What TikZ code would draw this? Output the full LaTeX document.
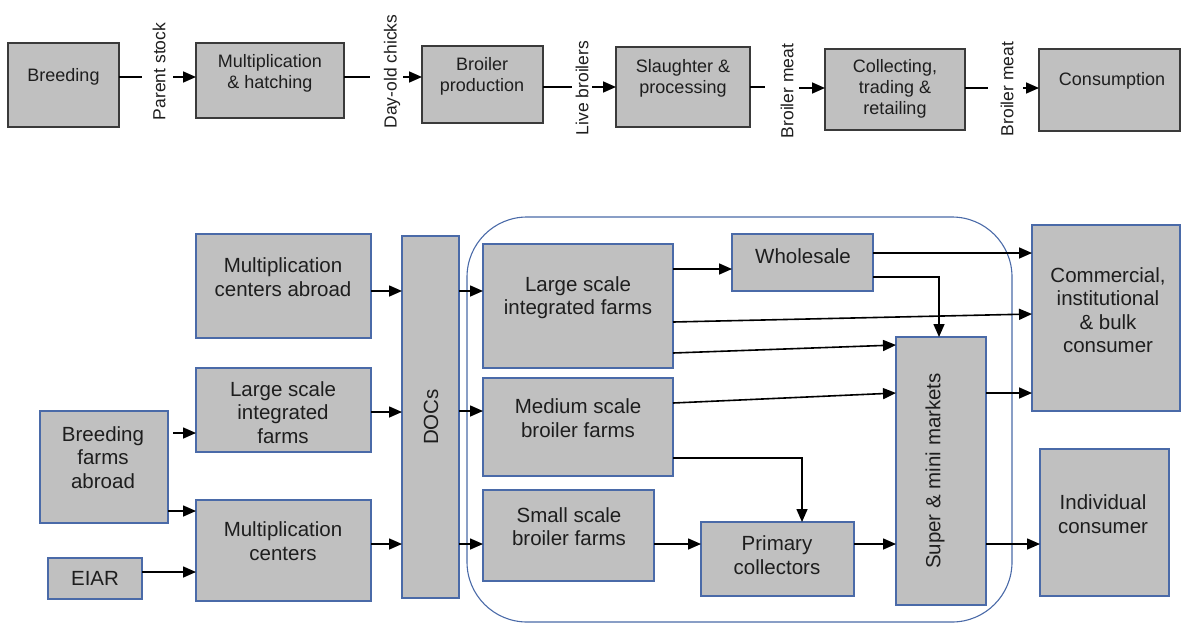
\documentclass[tikz,border=0pt]{standalone}
\usepackage{fontspec}
\setmainfont{Liberation Sans}
\usetikzlibrary{arrows.meta,calc}
\definecolor{boxfill}{HTML}{C0C0C0}
\definecolor{topline}{HTML}{3A3A3A}
\definecolor{blueline}{HTML}{4A6AA8}
\definecolor{txtc}{HTML}{1E1E1E}
\newcommand\pbox[6]{%
  \node[#1, minimum width={#5-#3}, minimum height={#6-#4}] (#2) at ({(#3+#5)/2},{(#4+#6)/2}) {};}
\tikzset{
  topbox/.style={draw=topline, fill=boxfill, line width=1.3pt, inner sep=0pt, outer sep=0pt},
  botbox/.style={draw=blueline, fill=boxfill, line width=1.3pt, inner sep=0pt, outer sep=0pt},
  ttxt/.style={text=txtc, align=center, inner sep=0pt, font=\fontsize{18pt}{21pt}\selectfont},
  btxt/.style={text=txtc, align=center, inner sep=0pt, font=\fontsize{20.5pt}{23.5pt}\selectfont},
  lbl/.style={text=txtc, inner sep=0pt, rotate=90, font=\fontsize{17.5pt}{20pt}\selectfont},
  plain/.style={draw=black, line width=1.6pt},
  arr/.style={draw=black, line width=1.6pt, -{Triangle[length=13pt,width=11pt]}},
  container/.style={draw=blueline, line width=1.1pt, rounded corners=60pt}
}
\begin{document}
\begin{tikzpicture}[x=1pt,y=-1pt]
\useasboundingbox (0,0) rectangle (1182,624);

% ---------- top chain ----------
\pbox{topbox}{breed}{8}{43}{119}{127}
\pbox{topbox}{mh}{196}{43}{344}{118}
\pbox{topbox}{bp}{422}{46}{543}{123}
\pbox{topbox}{sp}{616}{47}{750}{127}
\pbox{topbox}{ctr}{825}{49}{965}{130}
\pbox{topbox}{cons}{1039}{49}{1180}{131}

\node[ttxt] (tbreed) at (63.5,77) {Breeding};
\node[ttxt] (tmh) at (270,73.5) {Multiplication\\\& hatching};
\node[ttxt] (tbp) at (482,76.5) {Broiler\\production};
\node[ttxt] (tsp) at (683,78.5) {Slaughter \&\\processing};
\node[ttxt] (tctr) at (895,89) {Collecting,\\trading \&\\retailing};
\node[ttxt] (tcons) at (1112,81) {Consumption};

\node[lbl] (l1) at (159,71.5) {Parent stock};
\node[lbl] (l2) at (392,71.5) {Day-old chicks};
\node[lbl] (l3) at (582,88) {Live broilers};
\node[lbl] (l4) at (787,91) {Broiler meat};
\node[lbl] (l5) at (1007,89) {Broiler meat};

\coordinate (e1) at (142,77);  \coordinate (s1) at (173,77);
\coordinate (e2) at (370,77);  \coordinate (s2) at (403,77);
\coordinate (e3) at (572,87);  \coordinate (s3) at (592,87);
\coordinate (e4) at (765,87);  \coordinate (s4) at (799,88);
\coordinate (e5) at (988,88);  \coordinate (s5) at (1023,88);

\draw[plain] (breed.east |- e1) -- (e1);
\draw[arr] (s1) -- (s1 -| mh.west);
\draw[plain] (mh.east |- e2) -- (e2);
\draw[arr] (s2) -- (s2 -| bp.west);
\draw[plain] (bp.east |- e3) -- (e3);
\draw[arr] (s3) -- (s3 -| sp.west);
\draw[plain] (sp.east |- e4) -- (e4);
\draw[arr] (s4) -- (s4 -| ctr.west);
\draw[plain] (ctr.east |- e5) -- (e5);
\draw[arr] (s5) -- (s5 -| cons.west);

% ---------- bottom network ----------
\draw[container] (467,217) rectangle (1012,622);

\pbox{botbox}{mca}{196}{234}{371}{338}
\pbox{botbox}{lsa}{196}{368}{371}{452}
\pbox{botbox}{bfa}{40}{411}{168}{523}
\pbox{botbox}{mc}{196}{500}{371}{601}
\pbox{botbox}{eiar}{48}{558}{142}{599}
\pbox{botbox}{docs}{402}{236}{459}{598}
\pbox{botbox}{lsb}{483}{244}{673}{368}
\pbox{botbox}{med}{483}{378}{673}{476}
\pbox{botbox}{small}{483}{490}{654}{581}
\pbox{botbox}{whole}{732}{234}{873}{291}
\pbox{botbox}{prim}{701}{522}{854}{596}
\pbox{botbox}{super}{896}{337}{986}{605}
\pbox{botbox}{comm}{1032}{225}{1180}{411}
\pbox{botbox}{indiv}{1040}{449}{1169}{596}

\node[btxt] (tmca) at (283,277) {Multiplication\\centers abroad};
\node[btxt] (tlsa) at (283,412.5) {Large scale\\integrated\\farms};
\node[btxt] (tbfa) at (103,457.5) {Breeding\\farms\\abroad};
\node[btxt] (tmc) at (283,541) {Multiplication\\centers};
\node[btxt] (teiar) at (95,578) {EIAR};
\node[btxt, rotate=90] (tdocs) at (431,417) {DOCs};
\node[btxt] (tlsb) at (578,297.5) {Large scale\\integrated farms};
\node[btxt] (tmed) at (578,418) {Medium scale\\broiler farms};
\node[btxt] (tsmall) at (569,526.5) {Small scale\\broiler farms};
\node[btxt] (twhole) at (803,256) {Wholesale};
\node[btxt] (tprim) at (777,555) {Primary\\collectors};
\node[btxt, rotate=90] (tsuper) at (935,471) {Super \& mini markets};
\node[btxt] (tcomm) at (1108,310) {Commercial,\\institutional\\\& bulk\\consumer};
\node[btxt] (tindiv) at (1103,514) {Individual\\consumer};

% into DOCs
\draw[arr] ([yshift=-5pt]mca.east) coordinate (a1) -- (a1 -| docs.west);
\draw[arr] ([yshift=-2pt]lsa.east) coordinate (a2) -- (a2 -| docs.west);
\draw[arr] ([yshift=6.5pt]mc.east) coordinate (a3) -- (a3 -| docs.west);
% breeding farms / EIAR
\draw[arr] ([xshift=5pt,yshift=34pt]bfa.east) coordinate (a4) -- (a4 -| lsa.west);
\draw[arr] ([yshift=-44pt]bfa.east) coordinate (a5) -- (a5 -| mc.west);
\draw[arr] ([yshift=6.5pt]eiar.east) coordinate (a6) -- (a6 -| mc.west);
% out of DOCs
\draw[arr] ([yshift=126pt]docs.east) coordinate (a7) -- (a7 -| lsb.west);
\draw[arr] ([yshift=6pt]docs.east) coordinate (a8) -- (a8 -| med.west);
\draw[arr] ([yshift=-127pt]docs.east) coordinate (a9) -- (a9 -| small.west);
% large scale integrated farms
\draw[arr] ([yshift=37pt]lsb.east) coordinate (b1) -- (b1 -| whole.west);
\draw[arr] ([yshift=-16pt]lsb.east) -- ([yshift=4pt]comm.west);
\draw[arr] ([yshift=-47pt]lsb.east) -- ([yshift=126pt]super.west);
% medium
\draw[arr] ([yshift=24pt]med.east) -- ([yshift=78pt]super.west);
\draw[arr] ([yshift=-31pt]med.east) -| ([xshift=24.5pt]prim.north);
% small, primary
\draw[arr] ([yshift=-8.5pt]small.east) coordinate (b2) -- (b2 -| prim.west);
\draw[arr] ([yshift=15pt]prim.east) coordinate (b3) -- (b3 -| super.west);
% wholesale
\draw[arr] ([yshift=9.5pt]whole.east) coordinate (b4) -- (b4 -| comm.west);
\draw[arr] ([yshift=-14.5pt]whole.east) -| ([xshift=-2pt]super.north);
% super
\draw[arr] ([yshift=78pt]super.east) coordinate (b5) -- (b5 -| comm.west);
\draw[arr] ([yshift=-73pt]super.east) coordinate (b6) -- (b6 -| indiv.west);
\end{tikzpicture}
\end{document}
